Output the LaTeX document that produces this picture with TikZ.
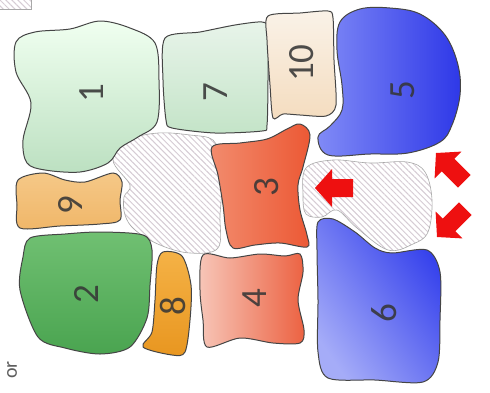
\documentclass[tikz,border=0pt]{standalone}
\usepackage{fontspec}
\setmainfont{Carlito}
\usetikzlibrary{patterns.meta}
\definecolor{edgec}{HTML}{454545}
\definecolor{hatchc}{HTML}{D6CCD4}
\definecolor{hatchedge}{HTML}{A8A8A8}
\definecolor{labc}{HTML}{363636}
\definecolor{arrowc}{HTML}{EE1010}
\tikzset{
  bone/.style={draw=edgec, line width=1pt},
  gap/.style={draw=hatchedge, line width=0.6pt,
    pattern={Lines[angle=-45,distance=4.2pt,line width=1pt]}, pattern color=hatchc},
  lab/.style={rotate=90, text=labc, opacity=0.88, font=\fontsize{37}{37}\selectfont, inner sep=0pt},
  redarrow/.style={fill=arrowc, draw=none}
}
\begin{document}
\begin{tikzpicture}[x=1pt,y=-1pt]
\useasboundingbox[fill=white] (0,0) rectangle (490,392);
% legend fragment top-left
\fill[pattern={Lines[angle=-45,distance=4.2pt,line width=1pt]}, pattern color=hatchc] (0,0) rectangle (31,9);
\draw[hatchedge, line width=0.6pt] (0,9) -- (31,9) -- (31,0);
% hatched gaps
\draw[gap] plot[smooth cycle, tension=0.6] coordinates {(113,160) (130,140) (158,133) (190,135) (213,140) (220,160) (222,185) (220,215) (218,248) (190,253) (160,245) (135,230) (125,215) (124,197) (130,185)};
\draw[gap] plot[smooth cycle, tension=0.6] coordinates {(306,168) (333,160) (370,163) (407,162) (425,172) (432,200) (428,232) (413,244) (388,250) (357,228) (337,210) (322,217) (306,214) (303,195)};
% bones
\draw[bone, top color=green!6!white, bottom color={rgb,255:red,188;green,224;blue,193}] plot[smooth cycle, tension=0.55] coordinates {(16,42) (35,32) (70,29) (100,21) (130,28) (155,43) (159,80) (157,122) (138,137) (120,148) (108,163) (80,172) (45,170) (27,163) (23,140) (31,103) (16,72)};
\draw[bone, top color={rgb,255:red,232;green,244;blue,234}, bottom color={rgb,255:red,196;green,228;blue,200}] plot[smooth cycle, tension=0.45] coordinates {(165,38) (200,32) (235,25) (262,22) (268,30) (268,80) (267,125) (262,131) (215,133) (172,128) (166,120) (163,80)};
\draw[bone, top color={rgb,255:red,250;green,242;blue,232}, bottom color={rgb,255:red,244;green,220;blue,190}] plot[smooth cycle, tension=0.45] coordinates {(268,16) (300,13) (328,11) (333,18) (334,60) (336,105) (326,116) (300,115) (283,114) (273,118) (270,85) (267,40)};
\draw[bone, left color={rgb,255:red,128;green,138;blue,246}, right color={rgb,255:red,46;green,56;blue,232}] plot[smooth cycle, tension=0.6] coordinates {(340,22) (360,9) (390,8) (420,14) (445,35) (458,65) (460,95) (452,125) (440,142) (408,153) (370,154) (328,155) (318,137) (330,126) (342,110) (342,85) (337,50)};
\draw[bone, left color={rgb,255:red,242;green,140;blue,110}, right color={rgb,255:red,236;green,88;blue,52}] plot[smooth cycle, tension=0.55] coordinates {(212,147) (240,143) (267,139) (287,129) (300,124) (310,135) (303,167) (298,185) (300,210) (307,235) (307,247) (280,243) (255,245) (233,248) (226,230) (223,205) (218,175)};
\draw[bone, left color={rgb,255:red,247;green,198;blue,184}, right color={rgb,255:red,236;green,98;blue,66}] plot[smooth cycle, tension=0.5] coordinates {(203,255) (230,258) (260,254) (285,256) (300,254) (303,272) (298,300) (304,330) (300,343) (273,343) (240,338) (207,347) (203,320) (200,290)};
\draw[bone, left color={rgb,255:red,165;green,172;blue,248}, right color={rgb,255:red,52;green,64;blue,236}, shading angle=125] plot[smooth cycle, tension=0.5] coordinates {(318,222) (333,219) (355,232) (375,248) (392,253) (427,250) (440,272) (440,320) (438,362) (423,382) (375,380) (328,378) (318,352) (318,300) (317,250)};
\draw[bone, top color={rgb,255:red,112;green,192;blue,114}, bottom color={rgb,255:red,74;green,164;blue,80}] plot[smooth cycle, tension=0.5] coordinates {(30,238) (65,234) (100,232) (143,235) (152,250) (150,285) (147,318) (130,347) (100,354) (65,348) (38,337) (20,290) (23,257)};
\draw[bone, top color={rgb,255:red,245;green,200;blue,135}, bottom color={rgb,255:red,240;green,182;blue,104}] plot[smooth cycle, tension=0.5] coordinates {(18,180) (43,173) (65,180) (85,182) (113,173) (122,182) (120,200) (120,220) (100,224) (60,226) (20,228) (17,205)};
\draw[bone, top color={rgb,255:red,245;green,178;blue,70}, bottom color={rgb,255:red,232;green,150;blue,32}] plot[smooth cycle, tension=0.5] coordinates {(163,252) (182,256) (191,285) (190,320) (185,352) (172,355) (143,347) (152,332) (155,300) (157,265)};
% labels
\node[lab] (l1) at (92,93) {1};
\node[lab] (l7) at (216,92) {7};
\node[lab] (l10) at (302,63) {10};
\node[lab] (l5) at (403,90) {5};
\node[lab] (l3) at (267,187) {3};
\node[lab] (l9) at (70,205) {9};
\node[lab] (l2) at (86,294) {2};
\node[lab] (l8) at (173,306) {8};
\node[lab] (l4) at (255,298) {4};
\node[lab] (l6) at (384,313) {6};
\node[rotate=90, text=labc!80, font=\fontsize{20}{20}\selectfont, inner sep=0pt] (lor) at (12,370) {or};
% red arrows
\fill[redarrow, shift={(315,188)}] (0,0) -- (17,-19) -- (17,-9) -- (38,-9) -- (38,9) -- (17,9) -- (17,19) -- cycle;
\fill[redarrow, shift={(436,153)}, rotate=-45] (0,0) -- (17,-19) -- (17,-9) -- (40,-9) -- (40,9) -- (17,9) -- (17,19) -- cycle;
\fill[redarrow, shift={(437,237)}, rotate=45] (0,0) -- (17,-19) -- (17,-9) -- (40,-9) -- (40,9) -- (17,9) -- (17,19) -- cycle;
\end{tikzpicture}
\end{document}
